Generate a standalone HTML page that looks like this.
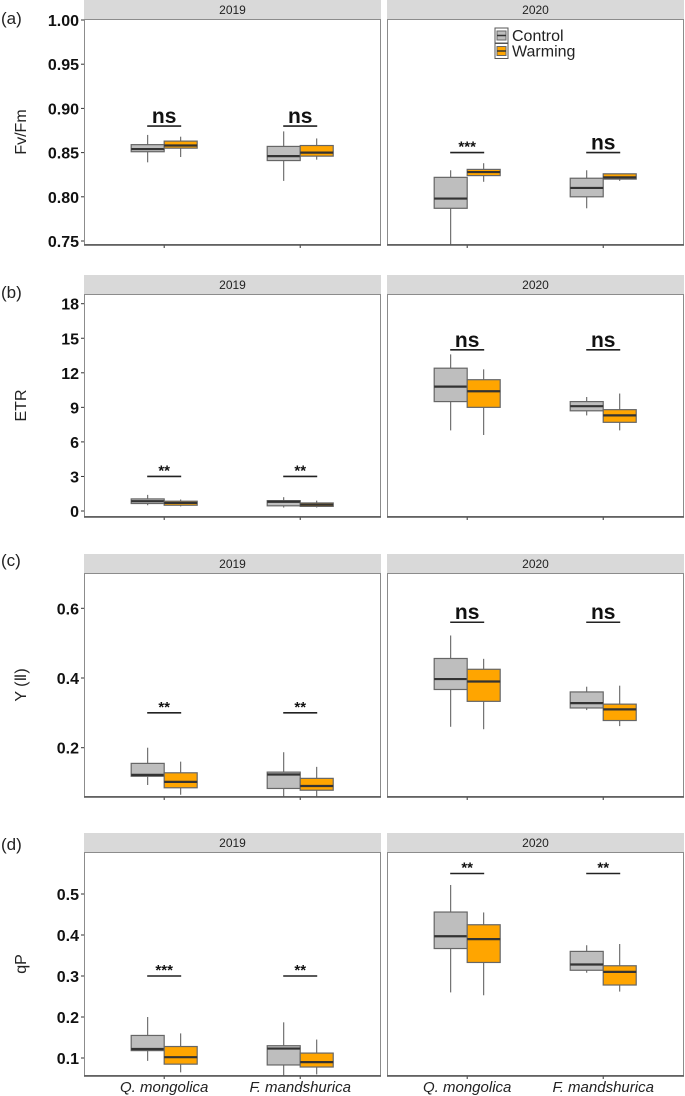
<!DOCTYPE html>
<html><head><meta charset="utf-8"><style>
html,body{margin:0;padding:0;background:#fff;}
svg{display:block;font-family:"Liberation Sans",Arial,sans-serif;}
.tk{font-family:"Liberation Sans Narrow","Liberation Sans",sans-serif;font-weight:bold;font-size:16px;}
</style></head><body>
<svg id="chart" width="685" height="1096" viewBox="0 0 685 1096" xmlns="http://www.w3.org/2000/svg"></svg>
<script>
// ---- data ----
const years = ["2019","2020"];
const species = ["Q. mongolica","F. mandshurica"];
const treatments = ["Control","Warming"];
// box stats: [whiskerLow, q1, median, q3, whiskerHigh]; order: year -> species -> treatment
const fvfmStats = [[[[0.839,0.851,0.854,0.859,0.870],[0.845,0.855,0.858,0.863,0.868]],
                    [[0.818,0.841,0.846,0.857,0.874],[0.842,0.846,0.850,0.858,0.866]]],
                   [[[0.745,0.787,0.798,0.822,0.830],[0.817,0.824,0.828,0.831,0.838]],
                    [[0.787,0.800,0.810,0.821,0.830],[0.818,0.820,0.822,0.826,0.826]]]];
const etrStats = [[[[0.5,0.65,0.85,1.05,1.4],[0.4,0.5,0.7,0.85,1.0]],
                   [[0.3,0.45,0.8,0.9,1.2],[0.3,0.4,0.55,0.7,0.9]]],
                  [[[7.0,9.5,10.8,12.4,13.6],[6.6,9.0,10.4,11.4,12.3]],
                   [[8.3,8.7,9.1,9.5,9.9],[7.0,7.7,8.3,8.8,10.2]]]];
const yiiStats = [[[[0.093,0.118,0.122,0.155,0.200],[0.065,0.085,0.102,0.128,0.160]],
                   [[0.055,0.083,0.123,0.130,0.187],[0.060,0.078,0.090,0.112,0.145]]],
                  [[[0.260,0.367,0.397,0.456,0.522],[0.253,0.333,0.390,0.425,0.455]],
                   [[0.308,0.314,0.328,0.360,0.375],[0.262,0.278,0.310,0.325,0.378]]]];
const qpStats = [[[[0.093,0.118,0.122,0.155,0.200],[0.065,0.085,0.102,0.128,0.160]],
                  [[0.055,0.083,0.123,0.130,0.187],[0.060,0.078,0.090,0.112,0.145]]],
                 [[[0.260,0.367,0.397,0.456,0.522],[0.253,0.333,0.390,0.425,0.455]],
                  [[0.308,0.314,0.328,0.360,0.375],[0.262,0.278,0.310,0.325,0.378]]]];
const fvfmTicks = [0.75,0.80,0.85,0.90,0.95,1.00];
const etrTicks = [0,3,6,9,12,15,18];
const yiiTicks = [0.2,0.4,0.6];
const qpTicks = [0.1,0.2,0.3,0.4,0.5];
const fvfmSig = [["ns","ns"],["***","ns"]];
const etrSig = [["**","**"],["ns","ns"]];
const yiiSig = [["**","**"],["ns","ns"]];
const qpSig = [["***","**"],["**","**"]];
const fvfmSigY = [[0.88,0.88],[0.85,0.85]];
const etrSigY = [[3,3],[14,14]];
const yiiSigY = [[0.30,0.30],[0.56,0.56]];
const qpSigY = [[0.30,0.30],[0.55,0.55]];

const NS="http://www.w3.org/2000/svg";
const svg=document.getElementById('chart');
function mk(tag,attrs,parent,text){const e=document.createElementNS(NS,tag);for(const k in attrs)e.setAttribute(k,attrs[k]);if(text!==undefined)e.textContent=text;(parent||svg).appendChild(e);return e;}

const panelX=[[84,381],[387,684]];
const fills=["#bebebe","#ffa500"];
const panels=[
 {id:"a",title:"Fv/Fm",stats:fvfmStats,ticks:fvfmTicks,sig:fvfmSig,sigY:fvfmSigY,top:19,bottom:245,vTop:1.00,vTopY:20,vBot:0.75,vBotY:241,fmt:v=>v.toFixed(2),labY:24,legend:true},
 {id:"b",title:"ETR",stats:etrStats,ticks:etrTicks,sig:etrSig,sigY:etrSigY,top:294,bottom:517,vTop:18,vTopY:303.7,vBot:0,vBotY:511,fmt:v=>String(v),labY:298},
 {id:"c",title:"Y (Ⅱ)",stats:yiiStats,ticks:yiiTicks,sig:yiiSig,sigY:yiiSigY,top:573,bottom:797,vTop:0.6,vTopY:608.3,vBot:0.2,vBotY:747.7,fmt:v=>v.toFixed(1),labY:566},
 {id:"d",title:"qP",stats:qpStats,ticks:qpTicks,sig:qpSig,sigY:qpSigY,top:852,bottom:1076,vTop:0.5,vTopY:894,vBot:0.1,vBotY:1058,fmt:v=>v.toFixed(1),labY:850}
];

panels.forEach(p=>{
 const g=mk('g',{});  
 const y=v=>p.vBotY+(v-p.vBot)*(p.vTopY-p.vBotY)/(p.vTop-p.vBot);
 const lab=mk('text',{x:1,y:p.labY,'font-size':17,fill:'#222'},g,'('+p.id+')');
  
 const yt=mk('text',{x:0,y:0,'font-size':16,fill:'#222','text-anchor':'middle',transform:`translate(26,${(p.top+p.bottom)/2}) rotate(-90)`},g,p.title);
  
 p.ticks.forEach(t=>{
  const ty=y(t);
  mk('line',{x1:81,x2:84,y1:ty,y2:ty,stroke:'#333','stroke-width':1},g);
  const tl=mk('text',{x:79,y:ty+6,'text-anchor':'end',class:'tk',fill:'#111'},g,p.fmt(t));
   
 });
 years.forEach((yr,yi)=>{
  const [x0,x1]=panelX[yi];
  const st=mk('rect',{x:x0,y:p.top-19,width:x1-x0,height:19,fill:'#d9d9d9'},g);
   
  mk('text',{x:(x0+x1)/2,y:p.top-5,'text-anchor':'middle','font-size':12,fill:'#222'},g,yr);
  const fr=mk('rect',{x:x0+0.5,y:p.top+0.5,width:x1-x0-1,height:p.bottom-p.top-1,fill:'#fff',stroke:'#8c8c8c','stroke-width':1},g);
   
  const cl=mk('clipPath',{id:'c'+p.id+yi},g); mk('rect',{x:x0,y:p.top,width:x1-x0,height:p.bottom-p.top},cl);
  const inner=mk('g',{'clip-path':`url(#c${p.id}${yi})`},g);
  species.forEach((sp,si)=>{
   const cx=x0+(x1-x0)*(si===0?0.27:0.728);
   mk('line',{x1:cx,x2:cx,y1:p.bottom,y2:p.bottom+3,stroke:'#333'},g);
   treatments.forEach((tr,ti)=>{
    const s=p.stats[yi][si][ti];
    const bx=ti===0?cx-33:cx, wc=bx+16.5;
    const bg=mk('g',{},inner);
    
    
    mk('line',{x1:wc,x2:wc,y1:y(s[0]),y2:y(s[4]),stroke:'#555','stroke-width':1},bg);
    mk('rect',{x:bx,y:y(s[3]),width:33,height:Math.max(1,y(s[1])-y(s[3])),fill:fills[ti],stroke:'#666','stroke-width':1.2},bg);
    mk('line',{x1:bx,x2:bx+33,y1:y(s[2]),y2:y(s[2]),stroke:'#333','stroke-width':2.2},bg);
   });
   const sy=y(p.sigY[yi][si]);
   mk('line',{x1:cx-17,x2:cx+17,y1:sy,y2:sy,stroke:'#222','stroke-width':1.6},inner);
   const lbl=p.sig[yi][si];
   const t=mk('text',{x:cx,y:lbl==='ns'?sy-3:sy-1,'text-anchor':'middle','font-weight':'bold','font-size':lbl==='ns'?21:15,fill:'#111'},inner,lbl);
    
   if(p.id==='d'){
    const xl=mk('text',{x:cx,y:1092,'text-anchor':'middle','font-style':'italic','font-size':15,fill:'#222'},g,sp);
     
   }
  });
  mk('line',{x1:x0,x2:x1,y1:p.bottom,y2:p.bottom,stroke:'#555','stroke-width':1.5},g);
 });
 if(p.legend){
  const lg=mk('g',{},g);  
  treatments.forEach((tr,ti)=>{
   const ly=28+ti*15.5;
   const e=mk('g',{},lg);  
   mk('rect',{x:495,y:ly,width:13,height:15,fill:'#fff',stroke:'#555'},e);
   mk('rect',{x:497,y:ly+3,width:9,height:9,fill:fills[ti],stroke:'#666'},e);
   mk('line',{x1:497,x2:506,y1:ly+7.5,y2:ly+7.5,stroke:'#333','stroke-width':1.5},e);
   mk('text',{x:512,y:ly+13,'font-size':16,fill:'#222'},e,tr);
  });
 }
});
</script>
</body></html>
